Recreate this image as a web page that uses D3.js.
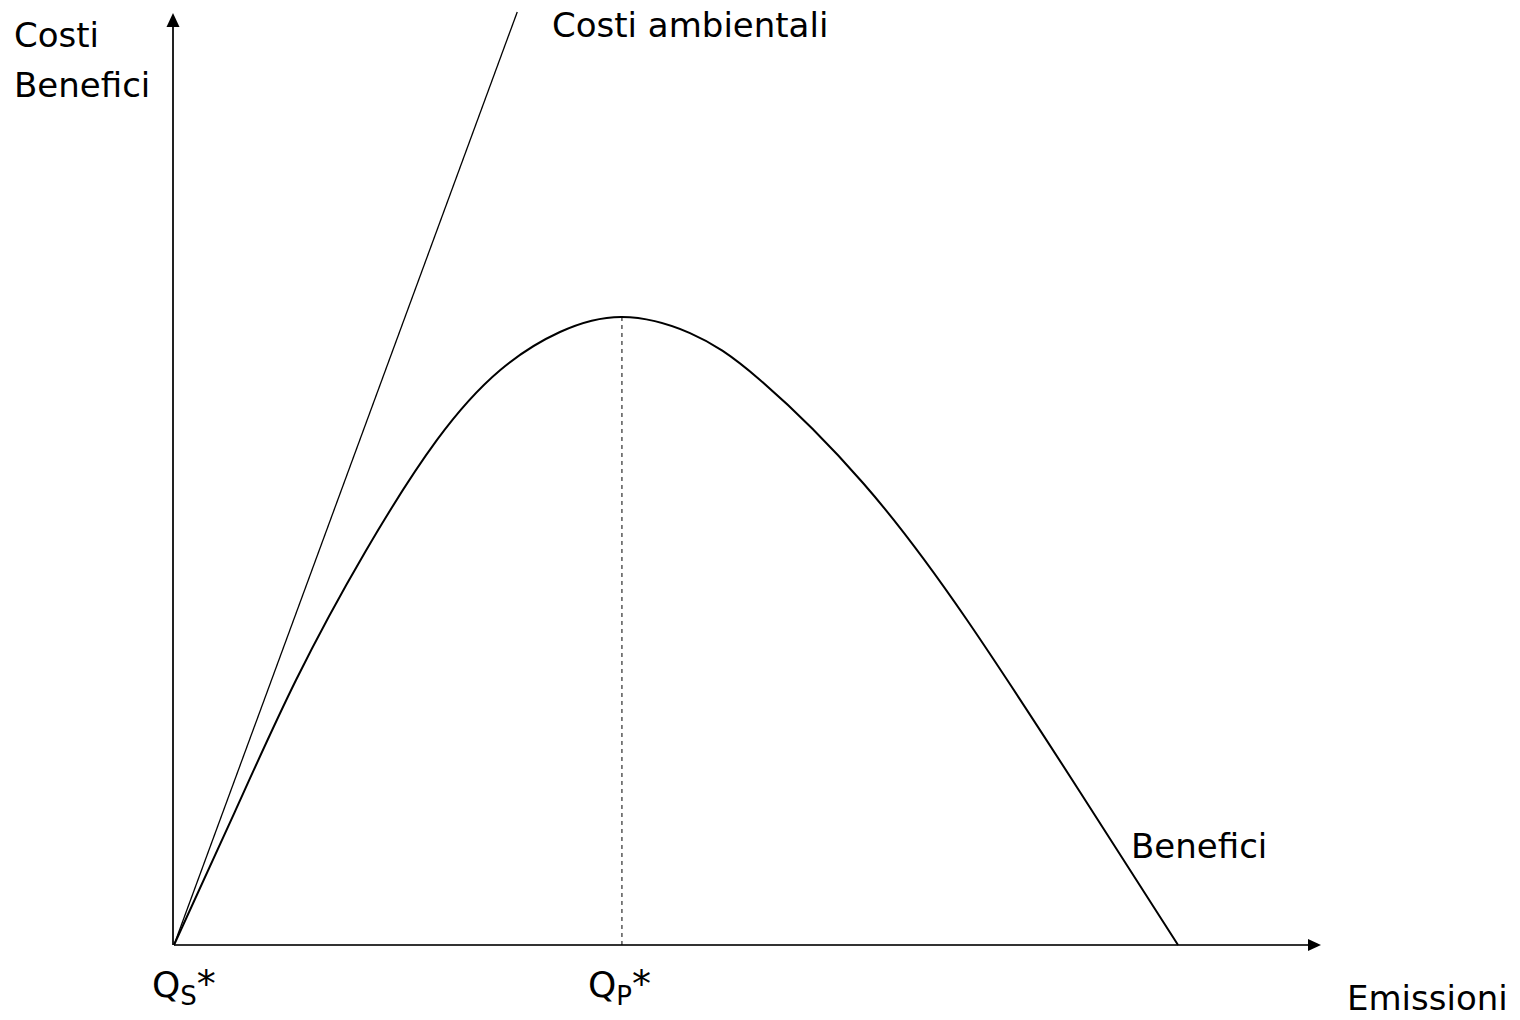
<!DOCTYPE html>
<html><head><meta charset="utf-8">
<script src="https://cdn.jsdelivr.net/npm/d3@7"></script>
<style>html,body{margin:0;padding:0;background:#fff;}svg{display:block;}</style>
</head><body>
<svg id="chart" width="1520" height="1020"></svg>
<script>
// Data (abstract units: emissions 0..100, costs/benefits 0..100)
const benefitX = [0, 5.31, 10.63, 16.64, 22.91, 28.40, 33.62, 39.02, 44.95, 51.05, 60.02, 69.08, 78.92, 87.46];
const benefitY = [0, 14.30, 28.40, 42.10, 54.13, 61.60, 65.70, 67.31, 65.59, 60.56, 49.52, 34.83, 16.40, 0];
const costX = [0, 29.9];
const costY = [0, 100];
const qS = 0, qP = 39.02;
const yAxisLabel = ["Costi", "Benefici"];
const xAxisLabel = "Emissioni";
const costLabel = "Costi ambientali";
const benefitLabel = "Benefici";

const svg = d3.select("#chart");
const x = d3.scaleLinear().domain([0, 100]).range([174, 1322]);
const y = d3.scaleLinear().domain([0, 100]).range([945, 12]);
const font = "'DejaVu Sans', sans-serif";

// axes
svg.append("line").attr("x1", x(0)-1).attr("x2", x(0)-1).attr("y1", y(0)).attr("y2", y(100)+12)
  .attr("stroke", "#222").attr("stroke-width", 2);
svg.append("path").attr("d", `M${x(0)-1},${y(100)+1} L${x(0)-7.5},${y(100)+15} L${x(0)+5.5},${y(100)+15} Z`).attr("fill", "#000");
svg.append("line").attr("x1", x(0)).attr("x2", x(100)-12).attr("y1", y(0)).attr("y2", y(0))
  .attr("stroke", "#333").attr("stroke-width", 2);
svg.append("path").attr("d", `M${x(100)-1},${y(0)} L${x(100)-14},${y(0)-6} L${x(100)-14},${y(0)+6} Z`).attr("fill", "#000");

// dashed line at QP
const peakY = benefitY[benefitX.indexOf(qP)];
svg.append("line").attr("x1", x(qP)).attr("x2", x(qP)).attr("y1", y(peakY)).attr("y2", y(0))
  .attr("stroke", "#000").attr("stroke-width", 1).attr("stroke-dasharray", "4,4");

// cost line
const costData = costX.map((d,i)=>[d, costY[i]]);
svg.append("path").datum(costData)
  .attr("d", d3.line().x(d=>x(d[0])).y(d=>y(d[1])))
  .attr("fill", "none").attr("stroke", "#000").attr("stroke-width", 1.3);

// benefit curve
const benData = benefitX.map((d,i)=>[d, benefitY[i]]);
svg.append("path").datum(benData)
  .attr("d", d3.line().curve(d3.curveNatural).x(d=>x(d[0])).y(d=>y(d[1])))
  .attr("fill", "none").attr("stroke", "#000").attr("stroke-width", 2);

// labels
const txt = (tx, ty, s, size) => svg.append("text").attr("x", tx).attr("y", ty)
  .attr("font-family", font).attr("font-size", size || 34).attr("fill", "#000").text(s);
txt(14, 47, yAxisLabel[0]);
txt(14, 97, yAxisLabel[1]);
txt(552, 37, costLabel);
txt(1131, 858, benefitLabel);
txt(1347, 1010, xAxisLabel);

const qlab = (tx, sub) => {
  const t = svg.append("text").attr("x", tx).attr("y", 997)
    .attr("font-family", font).attr("font-size", 36).attr("fill", "#000");
  t.append("tspan").text("Q");
  t.append("tspan").attr("font-size", 26).attr("dy", 8).text(sub);
  t.append("tspan").attr("dy", -8).attr("font-size", 38).text("*");
};
qlab(x(qS) - 22, "S");
qlab(x(qP) - 34, "P");
</script>
</body></html>
